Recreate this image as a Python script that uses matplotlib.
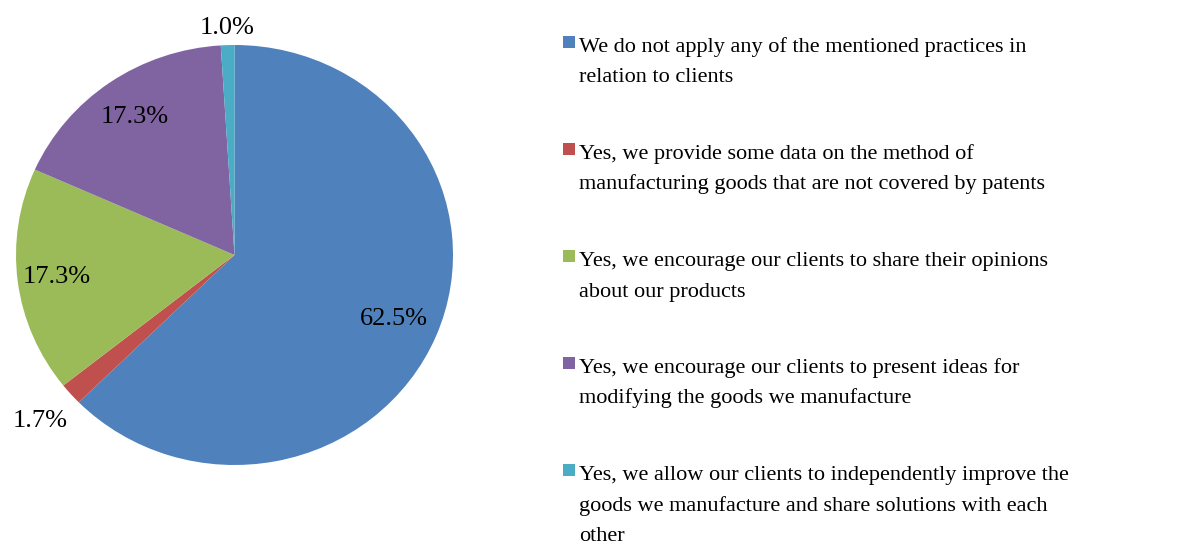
import numpy as np
import matplotlib.pyplot as plt
from matplotlib.patches import Rectangle

plt.rcParams['font.family'] = 'Liberation Serif'

# survey answers, clockwise from 12 o'clock
shares = [62.5, 1.7, 17.3, 17.3, 1.0]
pct_labels = ['62.5%', '1.7%', '17.3%', '17.3%', '1.0%']
answers = [
    ["We do not apply any of the mentioned practices in",
     "relation to clients"],
    ["Yes, we provide some data on the method of",
     "manufacturing goods that are not covered by patents"],
    ["Yes, we encourage our clients to share their opinions",
     "about our products"],
    ["Yes, we encourage our clients to present ideas for",
     "modifying the goods we manufacture"],
    ["Yes, we allow our clients to independently improve the",
     "goods we manufacture and share solutions with each",
     "other"],
]
colors = ['#4F81BD', '#C0504D', '#9BBB59', '#8064A2', '#4BACC6']
# radial position of each percentage label (fraction of radius)
label_r = [0.79, 1.19, 0.82, 0.80, 1.08]

W, H = 1184, 544
fig = plt.figure(figsize=(W / 100, H / 100), dpi=100)

# pie box in pixels: x 16..453, y 45..465 (slightly squashed vertically)
ax = fig.add_axes([16 / W, (H - 465) / H, 437 / W, 420 / H])
wedges, _ = ax.pie(shares, colors=colors, startangle=90, counterclock=False,
                   radius=1.0, wedgeprops=dict(linewidth=0))
ax.set_aspect('auto')
ax.set_xlim(-1, 1)
ax.set_ylim(-1, 1)
ax.axis('off')

for w, txt, r in zip(wedges, pct_labels, label_r):
    mid = np.deg2rad((w.theta1 + w.theta2) / 2)
    ax.text(r * np.cos(mid), r * np.sin(mid), txt, ha='center', va='center',
            fontsize=19, clip_on=False)

# legend on the right, built by hand (one text per line, baselines in px)
fs = 16
line_h = 30.5
y0 = 52
step = 107
for i, (lines, c) in enumerate(zip(answers, colors)):
    base = y0 + i * step
    for j, ln in enumerate(lines):
        fig.text(579 / W, 1 - (base + j * line_h) / H, ln, ha='left',
                 va='baseline', fontsize=fs)
    fig.patches.append(Rectangle((563 / W, 1 - (base - 4) / H), 12 / W, 12 / H,
                                 transform=fig.transFigure, facecolor=c,
                                 edgecolor='none'))

fig.savefig('out.png', dpi=100)
